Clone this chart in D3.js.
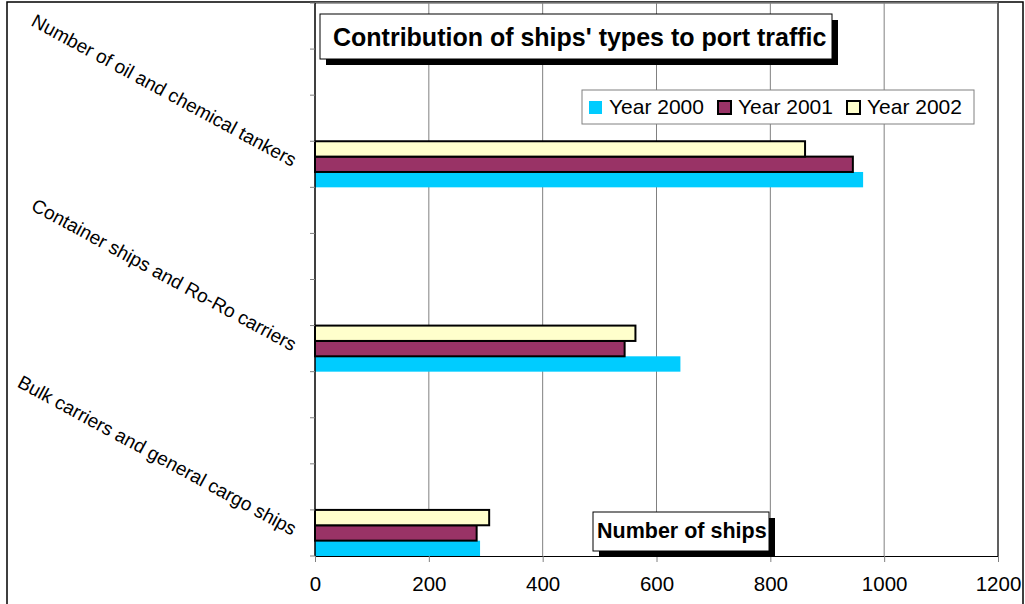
<!DOCTYPE html>
<html>
<head>
<meta charset="utf-8">
<title>Contribution of ships' types to port traffic</title>
<style>
  body { margin: 0; background: #fff; }
  svg text { font-family: Arial, "Liberation Sans", sans-serif; fill: #000; }
  .cat text { font-size: 19px; }
  .xaxis text { font-size: 20.5px; }
  .legend text { font-size: 21px; }
</style>
</head>
<body>
<svg width="1025" height="604"></svg>
<script src="https://d3js.org/d3.v7.min.js"></script>
<script>
// category slots, top to bottom (blank slots are empty categories, as in the source sheet)
var categories = ["", "", "", "Number of oil and chemical tankers",
                  "", "", "", "Container ships and Ro-Ro carriers",
                  "", "", "", "Bulk carriers and general cargo ships"];
var year2000 = [null, null, null, 963, null, null, null, 642, null, null, null, 290];
var year2001 = [null, null, null, 945, null, null, null, 544, null, null, null, 284];
var year2002 = [null, null, null, 861, null, null, null, 563, null, null, null, 306];
var seriesNames = ["Year 2000", "Year 2001", "Year 2002"];
var xTicks = [0, 200, 400, 600, 800, 1000, 1200];

var series = [
  { name: seriesNames[0], values: year2000, fill: "#00ccff", stroke: "none" },
  { name: seriesNames[1], values: year2001, fill: "#993366", stroke: "#000" },
  { name: seriesNames[2], values: year2002, fill: "#ffffcc", stroke: "#000" }
];

var svg = d3.select("svg");
var plotLeft = 315, plotRight = 998, plotTop = 3, plotBottom = 556;

// outer chart border
svg.append("rect")
  .attr("x", 7).attr("y", 2).attr("width", 1016).attr("height", 610)
  .attr("fill", "none").attr("stroke", "#000").attr("stroke-width", 1.5);

var x = d3.scaleLinear().domain([0, 1200]).range([plotLeft, plotRight]);
var y = d3.scaleBand().domain(d3.range(categories.length)).range([plotTop, plotBottom]).padding(0);
// within a slot: 2002 on top, 2000 at the bottom
var inner = d3.scaleBand().domain([2, 1, 0]).range([0, y.bandwidth()]).padding(0);

// gridlines
svg.append("g").selectAll("line")
  .data(xTicks.filter(function (d) { return d > 0 && d < 1200; }))
  .enter().append("line")
  .attr("x1", function (d) { return x(d); }).attr("x2", function (d) { return x(d); })
  .attr("y1", plotTop).attr("y2", plotBottom)
  .attr("stroke", "#808080").attr("stroke-width", 1);

// plot area border (top and right)
svg.append("line").attr("x1", plotLeft).attr("x2", plotRight).attr("y1", plotTop).attr("y2", plotTop)
  .attr("stroke", "#808080").attr("stroke-width", 1.5);
svg.append("line").attr("x1", plotRight).attr("x2", plotRight).attr("y1", plotTop).attr("y2", plotBottom)
  .attr("stroke", "#606060").attr("stroke-width", 2);

// bars
series.forEach(function (s, si) {
  svg.append("g").selectAll("rect")
    .data(s.values.map(function (v, i) { return { i: i, v: v }; }).filter(function (d) { return d.v != null; }))
    .enter().append("rect")
    .attr("x", x(0))
    .attr("y", function (d) { return y(d.i) + inner(si); })
    .attr("width", function (d) { return x(d.v) - x(0); })
    .attr("height", inner.bandwidth())
    .attr("fill", s.fill)
    .attr("stroke", s.stroke)
    .attr("stroke-width", 2);
});

// x axis
var xAxis = svg.append("g")
  .attr("class", "xaxis")
  .attr("transform", "translate(0," + plotBottom + ")")
  .call(d3.axisBottom(x).tickValues(xTicks).tickFormat(d3.format("d"))
    .tickSize(6).tickPadding(14).tickSizeOuter(0));
xAxis.select(".domain").attr("stroke", "#000");
xAxis.selectAll(".tick line").attr("stroke", "#808080");

// y axis: ticks on every slot boundary
var yAxis = svg.append("g").attr("class", "cat");
yAxis.append("line").attr("x1", plotLeft).attr("x2", plotLeft).attr("y1", plotTop).attr("y2", plotBottom)
  .attr("stroke", "#000").attr("stroke-width", 1.5);
yAxis.selectAll(".ytick")
  .data(d3.range(categories.length + 1))
  .enter().append("line")
  .attr("x1", plotLeft - 5).attr("x2", plotLeft)
  .attr("y1", function (d) { return plotTop + d * y.step(); })
  .attr("y2", function (d) { return plotTop + d * y.step(); })
  .attr("stroke", "#808080");
yAxis.selectAll("text")
  .data(categories.map(function (c, i) { return { c: c, i: i }; }).filter(function (d) { return d.c; }))
  .enter().append("text")
  .attr("transform", function (d) {
    return "translate(" + (plotLeft - 20) + "," + (y(d.i) + y.bandwidth() / 2 - 3) + ") rotate(28.5)";
  })
  .attr("text-anchor", "end")
  .attr("dy", "0.35em")
  .text(function (d) { return d.c; });

// boxed labels with a drop shadow
function boxWithShadow(bx, by, bw, bh, label, fontSize, tx, ty) {
  var g = svg.append("g");
  g.append("rect").attr("x", bx + 6).attr("y", by + 6).attr("width", bw).attr("height", bh).attr("fill", "#000");
  g.append("rect").attr("x", bx).attr("y", by).attr("width", bw).attr("height", bh)
    .attr("fill", "#fff").attr("stroke", "#000").attr("stroke-width", 1);
  g.append("text").attr("x", tx).attr("y", ty)
    .style("font-size", fontSize + "px").style("font-weight", "bold").text(label);
}
boxWithShadow(320, 14, 512, 45, "Contribution of ships' types to port traffic", 25, 333, 46);
boxWithShadow(593, 512, 176, 39, "Number of ships", 21.5, 597, 538);

// legend
var legend = svg.append("g").attr("class", "legend");
legend.append("rect").attr("x", 582).attr("y", 90).attr("width", 392).attr("height", 34)
  .attr("fill", "#fff").attr("stroke", "#808080");
var item = legend.selectAll(".item").data(series).enter().append("g")
  .attr("transform", function (d, i) { return "translate(" + (589 + i * 129) + ",101)"; });
item.append("rect").attr("width", 13).attr("height", 13)
  .attr("fill", function (d) { return d.fill; })
  .attr("stroke", function (d) { return d.stroke; }).attr("stroke-width", 2);
item.append("text").attr("x", 20).attr("y", 13).text(function (d) { return d.name; });
</script>
</body>
</html>
